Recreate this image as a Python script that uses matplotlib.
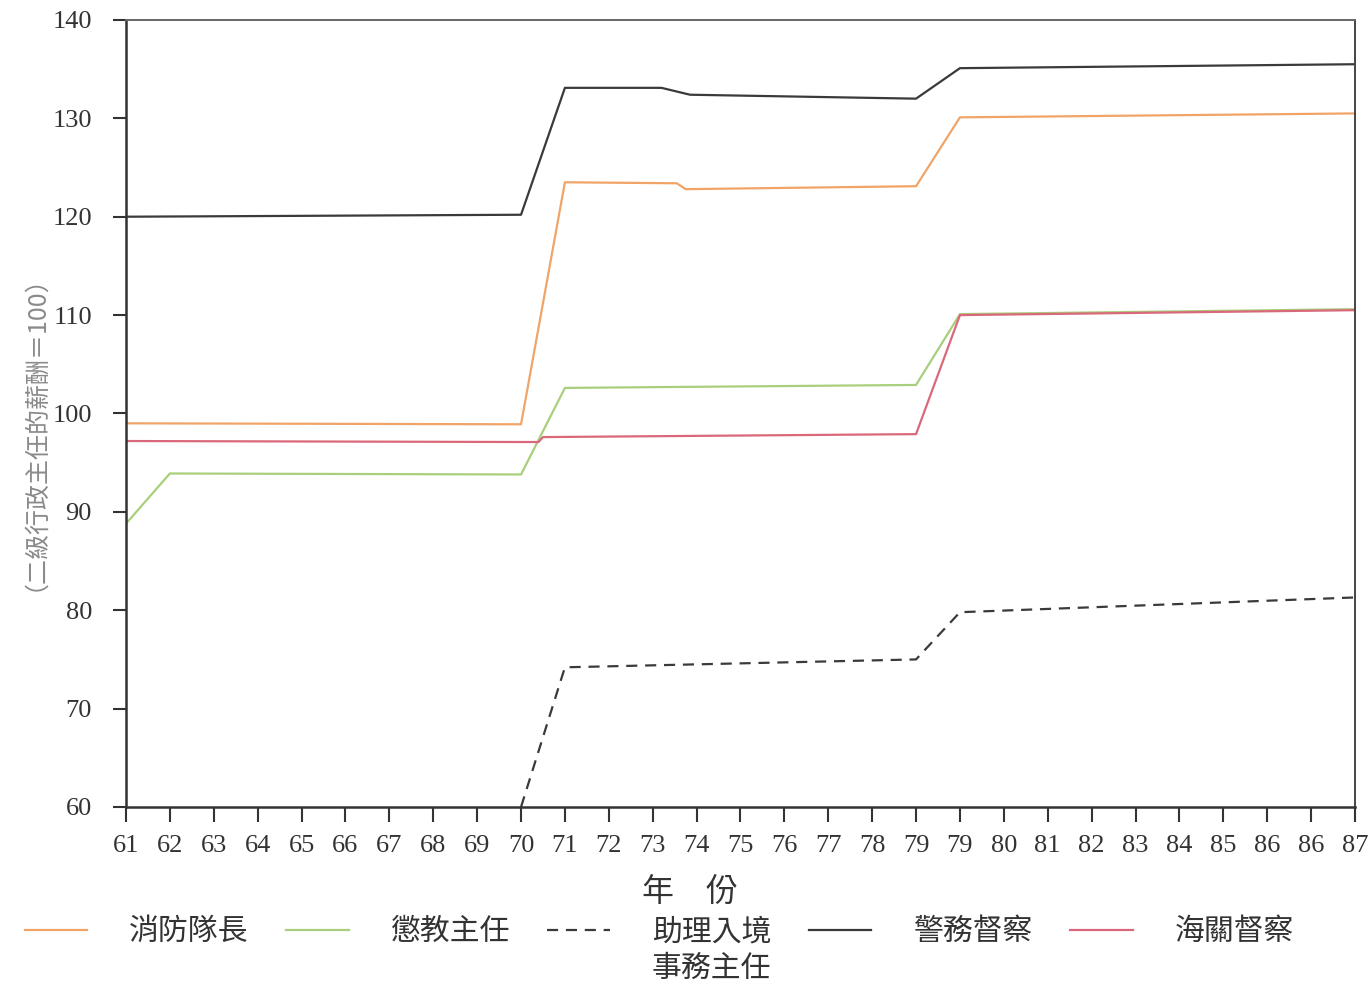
import matplotlib
matplotlib.use("Agg")
import matplotlib.pyplot as plt

# x axis: year labels as printed (79 and 86 appear twice)
year_labels = ["61", "62", "63", "64", "65", "66", "67", "68", "69", "70",
               "71", "72", "73", "74", "75", "76", "77", "78", "79", "79",
               "80", "81", "82", "83", "84", "85", "86", "86", "87"]

# series: positions along the tick index, values (二級行政主任 = 100)
fire_x = [0, 9, 10, 12.55, 12.75, 18, 19, 28]
fire_y = [99.0, 98.9, 123.5, 123.4, 122.8, 123.1, 130.1, 130.5]

corr_x = [0, 1, 9, 10, 18, 19, 28]
corr_y = [88.8, 93.9, 93.8, 102.6, 102.9, 110.1, 110.6]

immig_x = [9, 10, 18, 19, 28]
immig_y = [60.0, 74.2, 75.0, 79.8, 81.3]

police_x = [0, 9, 10, 12.2, 12.85, 18, 19, 28]
police_y = [120.0, 120.2, 133.1, 133.1, 132.4, 132.0, 135.1, 135.5]

customs_x = [0, 9, 9.4, 9.5, 18, 19, 28]
customs_y = [97.2, 97.1, 97.1, 97.6, 97.9, 110.0, 110.5]

names = ["消防隊長", "懲教主任", "助理入境", "警務督察", "海關督察"]
colors = ["#f0a468", "#a9cf7c", "#3a3a3a", "#3a3a3a", "#d9697a"]
styles = ["-", "-", (0, (5, 3.5)), "-", "-"]

cjk = ["Noto Sans CJK TC", "DejaVu Sans"]
num_font = "Liberation Serif"
ink = "#333333"


def main():
    fig = plt.figure(figsize=(13.71, 9.88), dpi=100)
    ax = fig.add_axes([0.0919, 0.1832, 0.8964, 0.7966])

    series = [(fire_x, fire_y), (corr_x, corr_y), (immig_x, immig_y),
              (police_x, police_y), (customs_x, customs_y)]
    handles = []
    for (xs, ys), name, c, ls in zip(series, names, colors, styles):
        ln, = ax.plot(xs, ys, color=c, linestyle=ls, linewidth=1.6, label=name)
        handles.append(ln)

    ax.set_xlim(0, 28)
    ax.set_ylim(60, 140)
    ax.set_xticks(range(len(year_labels)))
    ax.set_xticklabels(year_labels)
    ax.set_yticks(range(60, 141, 10))

    for lab in ax.get_xticklabels() + ax.get_yticklabels():
        lab.set_fontfamily(num_font)
        lab.set_color(ink)
    ax.tick_params(axis="x", length=11, width=1.5, pad=9, labelsize=19, color=ink)
    ax.tick_params(axis="y", length=9.5, width=1.5, pad=15, labelsize=19, color=ink)

    for side in ["left", "bottom"]:
        ax.spines[side].set_linewidth(1.8)
        ax.spines[side].set_color(ink)
    ax.spines["right"].set_linewidth(1.4)
    ax.spines["right"].set_color("#444444")
    ax.spines["top"].set_linewidth(1.4)
    ax.spines["top"].set_color("#666666")

    # axis titles
    fig.text(0.503, 0.097, "年　份", family=cjk, fontsize=23, color=ink,
             ha="center", va="center")
    fig.text(0.016, 0.575, "（二級行政主任的薪酬＝100）", family=cjk, fontsize=18,
             color="#8a8a8a", rotation=90, ha="center", va="center")

    # legend row under the chart
    leg = fig.legend(handles=handles, labels=names, loc="center",
                     bbox_to_anchor=(0.481, 0.057), ncol=5, frameon=False,
                     prop={"family": cjk, "size": 21.5}, handlelength=2.1,
                     handletextpad=1.4, columnspacing=1.25)
    for t in leg.get_texts():
        t.set_color(ink)

    # second line of the 助理入境事務主任 label
    fig.canvas.draw()
    bb = leg.get_texts()[2].get_window_extent().transformed(fig.transFigure.inverted())
    fig.text(bb.x0, bb.y0 - 0.006, "事務主任", family=cjk, fontsize=21.5,
             color=ink, ha="left", va="top")

    fig.savefig("out.png", dpi=100, facecolor="white")


if __name__ == "__main__":
    main()
